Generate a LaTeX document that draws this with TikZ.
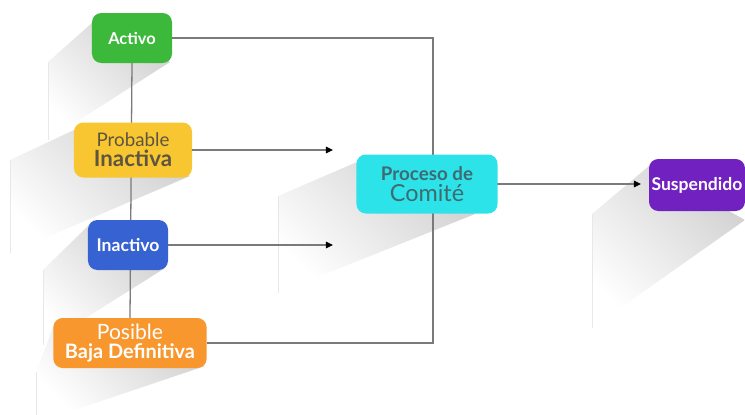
\documentclass[tikz,border=0pt]{standalone}
\usepackage{fontspec}
\setmainfont{Lato}
\usetikzlibrary{arrows.meta,backgrounds}

\definecolor{verde}{HTML}{3CB83A}
\definecolor{amarillo}{HTML}{F8C630}
\definecolor{azul}{HTML}{3762D2}
\definecolor{naranja}{HTML}{F8972E}
\definecolor{cian}{HTML}{2DE3EA}
\definecolor{morado}{HTML}{7021C0}
\definecolor{grislinea}{HTML}{7A7A7A}
\definecolor{textoamarillo}{HTML}{5E5442}
\definecolor{textocian}{HTML}{3F6B70}

\begin{document}
\begin{tikzpicture}[line cap=round,line join=round,x=0.03cm,y=-0.03cm,
  >={Triangle[length=6pt,width=5.5pt,black]},
  caja/.style={rounded corners=8pt,align=center,inner sep=0pt},
  linea/.style={color=grislinea,line width=1.1pt},
  sombra/.style={top color=black!18,bottom color=white,shading angle=-45},
  borde/.style={color=black!9,line width=0.4pt}]
\useasboundingbox (0,0) rectangle (745,415);

% estados
\node[caja,fill=verde,minimum width=2.4cm,minimum height=1.5cm,text=white,
  font=\fontsize{14}{16}\selectfont\bfseries] (activo) at (132,38) {Activo};
\node[caja,fill=amarillo,minimum width=3.54cm,minimum height=1.65cm,text=textoamarillo,
  font=\fontsize{16}{17}\selectfont] (probable) at (133,150)
  {Probable\\\fontsize{19}{20}\selectfont\bfseries Inactiva};
\node[caja,fill=azul,minimum width=2.4cm,minimum height=1.5cm,text=white,
  font=\fontsize{15}{16}\selectfont\bfseries] (inactivo) at (128,245) {Inactivo};
\node[caja,fill=naranja,minimum width=4.6cm,minimum height=1.5cm,text=white,
  font=\fontsize{18}{17}\selectfont] (posible) at (130,343)
  {Posible\\\fontsize{17}{18}\selectfont\bfseries Baja Definitiva};
\node[caja,fill=cian,minimum width=4.23cm,minimum height=1.77cm,text=textocian,
  font=\fontsize{16}{18}\selectfont] (comite) at (427,184)
  {\bfseries Proceso de\\\fontsize{20}{20}\selectfont Comité};
\node[caja,fill=morado,minimum width=2.88cm,minimum height=1.56cm,text=white,
  font=\fontsize{15}{16}\selectfont\bfseries] (suspendido) at (697,185) {Suspendido};

\coordinate (riel) at (433,190);
\coordinate (flechaA) at (333,150);
\coordinate (flechaB) at (333,245);
\coordinate (flechaC) at (641,184);

\begin{pgfonlayer}{background}
% sombras largas
\shade[sombra] (93,22) -- (48,62) -- (48,140) -- (170,62) -- cycle;
\shade[sombra] (74,130) -- (10,160) -- (10,253) -- (190,176) -- cycle;
\shade[sombra] (88,226) -- (43,270) -- (43,345) -- (165,268) -- cycle;
\shade[sombra] (54,325) -- (36,372) -- (36,415) -- (60,415) -- (205,366) -- cycle;
\shade[sombra] (357,162) -- (278,196) -- (278,293) -- (475,214) -- cycle;
\shade[sombra] (649,166) -- (592,214) -- (592,328) -- (745,220) -- cycle;
\draw[borde] (48,62) -- (48,140);
\draw[borde] (10,160) -- (10,253);
\draw[borde] (43,270) -- (43,345);
\draw[borde] (36,372) -- (36,415);
\draw[borde] (278,196) -- (278,293);
\draw[borde] (592,214) -- (592,328);
% conectores
\draw[linea] (activo.south) -- (posible.north);
\draw[linea] (activo.east) -| (riel) |- (posible.east);
\end{pgfonlayer}

\draw[linea,->] (probable.east) -- (flechaA);
\draw[linea,->] (inactivo.east) -- (flechaB);
\draw[linea,->] (comite.east) -- (flechaC);
\end{tikzpicture}
\end{document}
